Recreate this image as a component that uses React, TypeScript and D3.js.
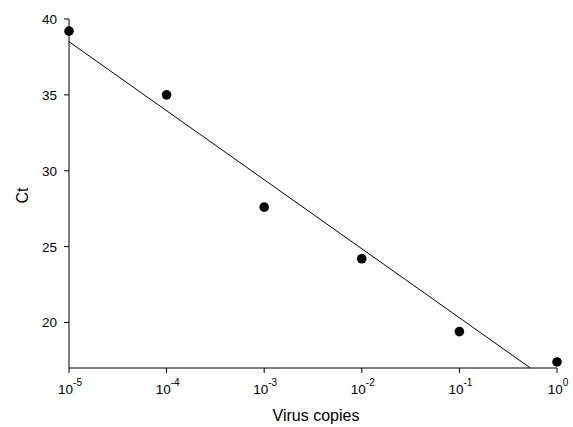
import React from "react";
import * as d3 from "d3";

const exponents = [-5, -4, -3, -2, -1, 0];
const ctValues = [39.2, 35.0, 27.6, 24.2, 19.4, 17.4];
const yTicks = [20, 25, 30, 35, 40];

const W = 573, H = 427;
const left = 69, right = 557, top = 19, bottom = 368;

export default function App() {
  const x = d3.scaleLog().domain([1e-5, 1]).range([left, right]);
  const y = d3.scaleLinear().domain([17, 40]).range([bottom, top]);
  const font = "'Liberation Sans', Arial, sans-serif";

  // linear regression of Ct against log10(copies)
  const mx = d3.mean(exponents)!;
  const my = d3.mean(ctValues)!;
  const sxy = d3.sum(exponents.map((e, i) => (e - mx) * (ctValues[i] - my)));
  const sxx = d3.sum(exponents.map((e) => (e - mx) ** 2));
  const slope = sxy / sxx;
  const intercept = my - slope * mx;
  const yMin = y.domain()[0];
  const xEnd = Math.min(0, (yMin - intercept) / slope);
  const linePts: [number, number][] = [
    [-5, intercept + slope * -5],
    [xEnd, intercept + slope * xEnd],
  ];
  const line = d3
    .line<[number, number]>()
    .x((d) => x(Math.pow(10, d[0])))
    .y((d) => y(d[1]));

  return (
    <svg width={W} height={H} style={{ position: "absolute", left: 0, top: 0, background: "#fff" }}>
      <rect width={W} height={H} fill="#fff" />
      <path d={line(linePts)!} stroke="#000" strokeWidth={1} fill="none" />
      {/* axes */}
      <line x1={left} x2={left} y1={top} y2={bottom} stroke="#000" />
      <line x1={left} x2={right} y1={bottom} y2={bottom} stroke="#000" />
      {yTicks.map((t) => (
        <g key={t}>
          <line x1={left - 5} x2={left} y1={y(t)} y2={y(t)} stroke="#000" />
          <text x={left - 12} y={y(t) + 5} textAnchor="end" fontFamily={font} fontSize={13.5} fill="#000">
            {t}
          </text>
        </g>
      ))}
      {exponents.map((e) => (
        <g key={e}>
          <line x1={x(Math.pow(10, e))} x2={x(Math.pow(10, e))} y1={bottom} y2={bottom + 5} stroke="#000" />
          <text x={x(Math.pow(10, e)) + 1} y={bottom + 26} textAnchor="middle" fontFamily={font} fontSize={13.5} fill="#000">
            10
            <tspan fontSize={10} dy={-8}>
              {String(e)}
            </tspan>
          </text>
        </g>
      ))}
      {exponents.map((e, i) => (
        <circle key={e} cx={x(Math.pow(10, e))} cy={y(ctValues[i])} r={4.8} fill="#000" />
      ))}
      <text x={(left + right) / 2 + 3} y={421} textAnchor="middle" fontFamily={font} fontSize={16} fill="#000">
        Virus copies
      </text>
      <text
        transform={`translate(28, ${(top + bottom) / 2 + 2}) rotate(-90)`}
        textAnchor="middle"
        fontFamily={font}
        fontSize={16}
        fill="#000"
      >
        Ct
      </text>
    </svg>
  );
}
